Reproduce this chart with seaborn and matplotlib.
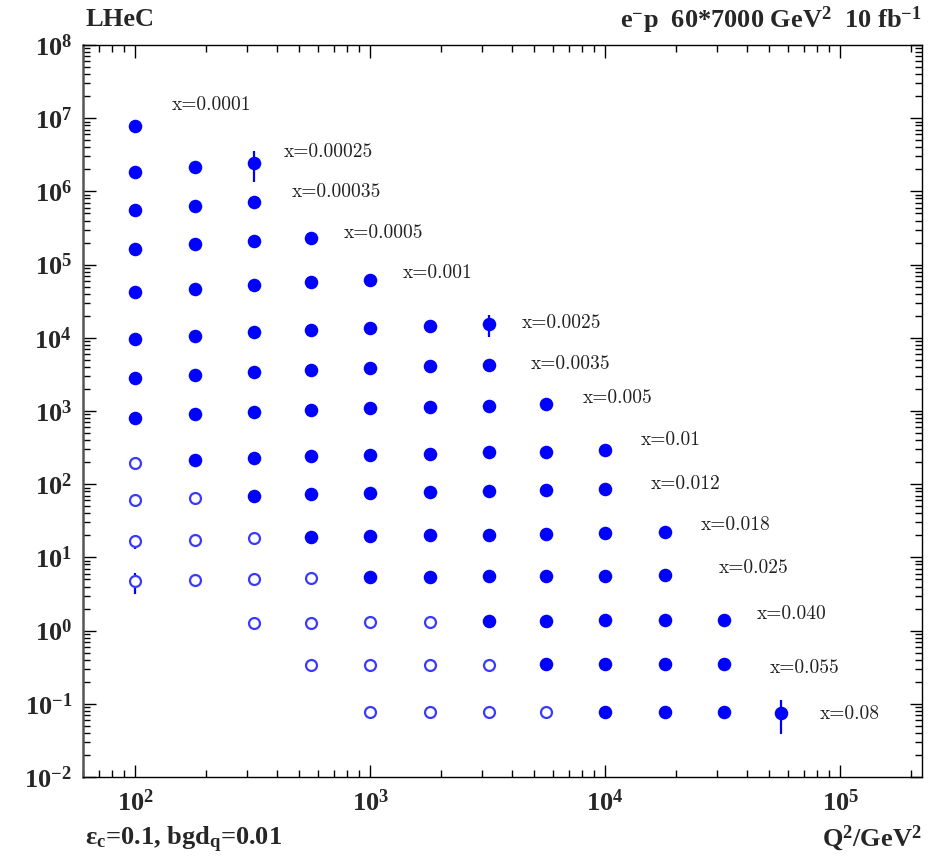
import numpy as np
import pandas as pd
import matplotlib
matplotlib.use("Agg")
import matplotlib.pyplot as plt
import seaborn as sns
from matplotlib.ticker import LogLocator, FuncFormatter, NullFormatter

# ---------------- data ----------------
q2_bins = [100, 180, 320, 560, 1000, 1800, 3200, 5600, 10000, 18000, 32000, 56000]
x_labels = ["x=0.0001", "x=0.00025", "x=0.00035", "x=0.0005", "x=0.001",
            "x=0.0025", "x=0.0035", "x=0.005", "x=0.01", "x=0.012",
            "x=0.018", "x=0.025", "x=0.040", "x=0.055", "x=0.08"]

sig_x0001 = [7.8e6]
sig_x00025 = [1.84e6, 2.15e6, 2.44e6]
sig_x00035 = [5.6e5, 6.3e5, 7.2e5]
sig_x0005 = [1.63e5, 1.9e5, 2.1e5, 2.3e5]
sig_x001 = [4.2e4, 4.7e4, 5.3e4, 5.8e4, 6.2e4]
sig_x0025 = [9.6e3, 1.06e4, 1.2e4, 1.28e4, 1.36e4, 1.45e4, 1.53e4]
sig_x0035 = [2.83e3, 3.1e3, 3.4e3, 3.6e3, 3.9e3, 4.1e3, 4.25e3]
sig_x005 = [800, 910, 970, 1030, 1100, 1135, 1170, 1250]
sig_x01 = [196, 214, 228, 243, 250, 259, 272, 275, 290]
sig_x012 = [60, 65, 69, 73, 76, 78, 81, 83, 86]
sig_x018 = [16.5, 17.3, 18.4, 19.0, 19.6, 20.2, 20.5, 20.9, 21.5, 22.2]
sig_x025 = [4.7, 4.9, 5.07, 5.23, 5.4, 5.45, 5.5, 5.57, 5.6, 5.75]
sig_x040 = [1.27, 1.28, 1.3, 1.31, 1.35, 1.37, 1.38, 1.39, 1.40]
sig_x055 = [0.339, 0.34, 0.342, 0.344, 0.348, 0.35, 0.35, 0.35]
sig_x08 = [0.077, 0.077, 0.077, 0.077, 0.078, 0.078, 0.078, 0.075]

err_x0001 = [0]
err_x00025 = [0, 0, 1.1e6]
err_x00035 = [0, 0, 0]
err_x0005 = [0, 0, 0, 0]
err_x001 = [0, 0, 0, 0, 0]
err_x0025 = [0, 0, 0, 0, 0, 0, 5.0e3]
err_x0035 = [0, 0, 0, 0, 0, 0, 0]
err_x005 = [0, 0, 0, 0, 0, 0, 0, 0]
err_x01 = [40, 0, 0, 0, 0, 0, 0, 0, 0]
err_x012 = [11, 0, 0, 0, 0, 0, 0, 0, 0]
err_x018 = [3.5, 0, 0, 0, 0, 0, 0, 0, 0, 0]
err_x025 = [1.5, 0, 0, 0, 0, 0, 0, 0, 0, 0]
err_x040 = [0, 0, 0, 0, 0, 0, 0, 0, 0.25]
err_x055 = [0, 0, 0, 0, 0, 0, 0, 0]
err_x08 = [0.012, 0, 0, 0, 0.012, 0, 0.012, 0.036]

start_col = [0, 0, 0, 0, 0, 0, 0, 0, 0, 0, 0, 0, 2, 3, 4]
n_open = [0, 0, 0, 0, 0, 0, 0, 0, 1, 2, 3, 4, 4, 4, 4]

label_q2 = [143, 430, 466, 774, 1380, 4400, 4840, 8060, 14200, 15700,
            25600, 30300, 44000, 50400, 82200]
label_sig = [1.51e7, 3.45e6, 9.8e5, 2.7e5, 7.7e4, 1.59e4, 4.39e3, 1510, 402, 101,
             27.7, 7.16, 1.69, 0.308, 0.0724]

rows_sig = [sig_x0001, sig_x00025, sig_x00035, sig_x0005, sig_x001, sig_x0025,
            sig_x0035, sig_x005, sig_x01, sig_x012, sig_x018, sig_x025,
            sig_x040, sig_x055, sig_x08]
rows_err = [err_x0001, err_x00025, err_x00035, err_x0005, err_x001, err_x0025,
            err_x0035, err_x005, err_x01, err_x012, err_x018, err_x025,
            err_x040, err_x055, err_x08]

records = []
for lab, sig, err, s0, no in zip(x_labels, rows_sig, rows_err, start_col, n_open):
    for i, (v, e) in enumerate(zip(sig, err)):
        records.append({"xbin": lab, "Q2": q2_bins[s0 + i], "sigma": v,
                        "err": e, "open": i < no})
df = pd.DataFrame(records)

# ---------------- style ----------------
sns.set_style("white")
plt.rcParams["font.family"] = ["Liberation Serif", "DejaVu Serif"]
plt.rcParams["mathtext.fontset"] = "custom"
plt.rcParams["mathtext.rm"] = "Liberation Serif:bold"
plt.rcParams["mathtext.bf"] = "Liberation Serif:bold"
plt.rcParams["mathtext.it"] = "Liberation Serif:bold:italic"
plt.rcParams["mathtext.default"] = "rm"

fig = plt.figure(figsize=(9.34, 8.66), dpi=100)
ax = fig.add_axes([83 / 934, 1 - 777 / 866, (922 - 83) / 934, (777 - 45) / 866])
ax.set_xscale("log")
ax.set_yscale("log")
ax.set_xlim(60, 2.23e5)
ax.set_ylim(1e-2, 1e8)

blue = "#0000ff"
open_col = "#3a3aff"

# error bars
eb = df[df["err"] > 0]
ax.errorbar(eb["Q2"], eb["sigma"], yerr=eb["err"], fmt="none",
            ecolor=blue, elinewidth=1.6, capsize=0, zorder=2)

filled = df[~df["open"]]
opened = df[df["open"]]
sns.scatterplot(data=filled, x="Q2", y="sigma", ax=ax, marker="o", s=95,
                color=blue, edgecolor=blue, linewidth=0, zorder=3, legend=False)
sns.scatterplot(data=opened, x="Q2", y="sigma", ax=ax, marker="o", s=62,
                facecolors="white", edgecolors=open_col, linewidths=1.6,
                zorder=3, legend=False)

for lab, qx, sy in zip(x_labels, label_q2, label_sig):
    ax.text(qx, sy, lab, family="cmr10", fontsize=14, color="#222222",
            ha="left", va="center")

# axes cosmetics
ax.set_xlabel("")
ax.set_ylabel("")
for sp in ax.spines.values():
    sp.set_visible(True)
    sp.set_color("black")
    sp.set_linewidth(1.0)
ax.spines["left"].set_color("#555555")
ax.spines["left"].set_linewidth(1.8)

ax.xaxis.set_major_locator(LogLocator(base=10, numticks=100))
ax.xaxis.set_minor_locator(LogLocator(base=10, subs=np.arange(2, 10), numticks=100))
ax.yaxis.set_major_locator(LogLocator(base=10, numticks=100))
ax.yaxis.set_minor_locator(LogLocator(base=10, subs=np.arange(2, 10), numticks=100))
fmt = FuncFormatter(lambda v, p: r"$\mathbf{10^{%d}}$" % int(round(np.log10(v))))
ax.xaxis.set_major_formatter(fmt)
ax.yaxis.set_major_formatter(fmt)
ax.xaxis.set_minor_formatter(NullFormatter())
ax.yaxis.set_minor_formatter(NullFormatter())
ax.tick_params(which="both", direction="in", top=True, right=True,
               bottom=True, left=True, color="black", width=1.0)
ax.tick_params(which="major", length=9)
ax.tick_params(which="minor", length=5)
ax.tick_params(axis="x", which="major", labelsize=19, pad=9)
ax.tick_params(axis="y", which="major", labelsize=19, pad=8)

# header / footer texts
fig.text(85 / 934, 1 - 20 / 866, "LHeC", fontsize=19, fontweight="bold",
         ha="left", va="center")
fig.text(922 / 934, 1 - 20 / 866,
         r"e$^{-}$p  60*7000 GeV$^{2}$  10 fb$^{-1}$", fontsize=19,
         fontweight="bold", ha="right", va="center")
fig.text(85 / 934, 1 - 840 / 866, r"ε$_{c}$=0.1, bgd$_{q}$=0.01", fontsize=19,
         fontweight="bold", ha="left", va="center")
fig.text(922 / 934, 1 - 838 / 866, r"Q$^{2}$/GeV$^{2}$", fontsize=19,
         fontweight="bold", ha="right", va="center")

fig.savefig("out.png", dpi=100)
